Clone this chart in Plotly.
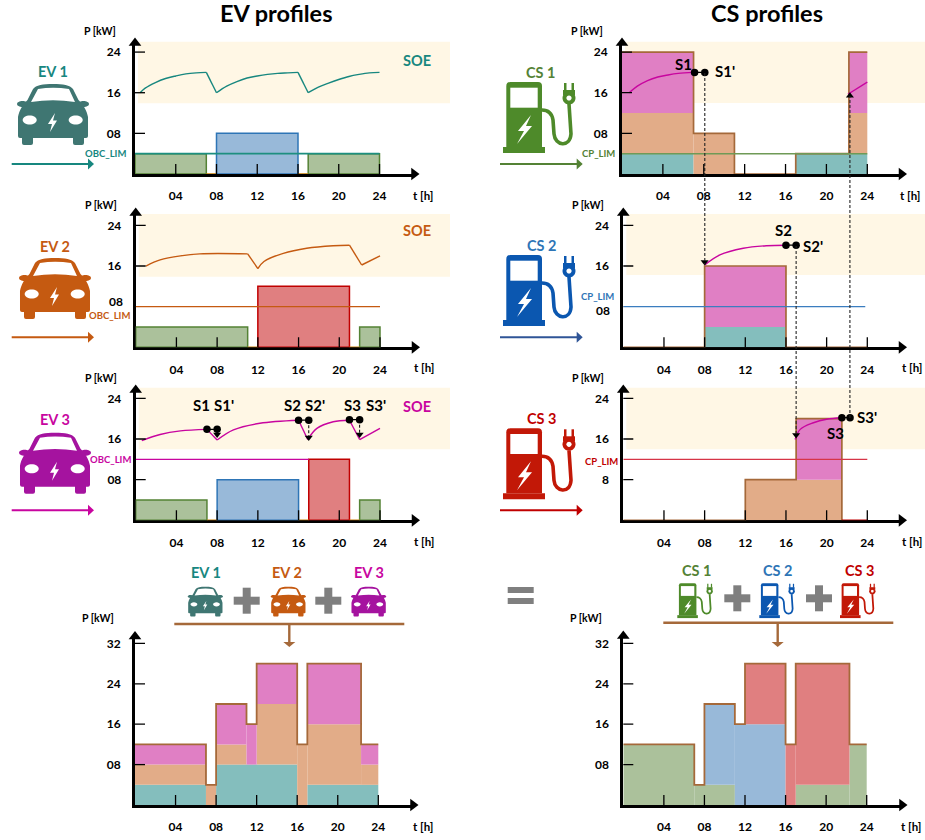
import re
import plotly.graph_objects as go

# ---------- data (kW against hour): segments are [start, end, low, high] ----------
HOUR_TICKS = [4, 8, 12, 16, 20, 24]
HOUR_LABELS = ["04", "08", "12", "16", "20", "24"]

EV1_GREEN = [[0, 7, 0, 4], [17, 24, 0, 4]]
EV1_BLUE = [[8, 16, 0, 8]]
EV1_IDLE = [[7, 8], [16, 17]]
EV1_LIMIT = 4
EV1_SOE_T = [0.5, 1, 2, 3, 4, 5, 6, 7, 8, 9, 10, 11, 12, 13, 14, 15, 16, 17, 18, 19, 20, 21, 22, 23, 24]
EV1_SOE = [16, 16.9, 18, 18.8, 19.3, 19.7, 19.9, 20, 16, 17.3, 18.2, 18.9, 19.3, 19.6, 19.8, 19.9, 20, 16, 17.1, 17.9, 18.6, 19.2, 19.6, 19.9, 20]

EV2_GREEN = [[0, 11, 0, 4], [22, 24, 0, 4]]
EV2_RED = [[12, 21, 0, 12]]
EV2_IDLE = [[11, 12], [21, 22]]
EV2_LIMIT = 8
EV2_SOE_T = [1, 2.4, 4.4, 6.3, 11, 12, 12.6, 14.5, 16.8, 19.4, 21, 22.2, 24]
EV2_SOE = [16, 17.2, 18, 18.4, 18.4, 15.5, 16.9, 18.5, 19.5, 20, 20.1, 16.2, 18]

EV3_GREEN = [[0, 7, 0, 4], [22, 24, 0, 4]]
EV3_BLUE = [[8, 16, 0, 8]]
EV3_RED = [[17, 21, 0, 12]]
EV3_IDLE = [[7, 8], [16, 17], [21, 22]]
EV3_LIMIT = 12
EV3_SOE_T = [0.6, 2.4, 4.4, 7, 8, 9.6, 12.2, 16, 16.9, 17.8, 19.4, 21, 22, 24]
EV3_SOE = [15.7, 16.9, 17.6, 17.9, 15.8, 17.8, 19.1, 19.7, 15.9, 18.1, 19.4, 19.7, 15.9, 18.1]
EV3_DOTS_T = [7, 8, 16, 17, 21, 22]
EV3_DOTS = [17.9, 17.9, 19.7, 19.7, 19.8, 19.8]

CS1_TEAL = [[0, 7, 0, 4], [17, 24, 0, 4]]
CS1_ORANGE = [[0, 7, 4, 12], [7, 11, 0, 8], [22.2, 24, 4, 12]]
CS1_PINK = [[0, 7, 12, 24], [22.2, 24, 12, 24]]
CS1_STEP_T = [0, 7, 11, 17, 22.2, 24]
CS1_STEP = [24, 8, 0, 4, 24, 24]
CS1_SOE_T = [0.7, 1.5, 2.5, 3.5, 4.5, 5.5, 7]
CS1_SOE = [16, 17.3, 18.4, 19.1, 19.5, 19.8, 20]
CS1_SOE2_T = [22.1, 24]
CS1_SOE2 = [15.7, 18.1]
CS1_DOTS_T = [7.1, 8.1]
CS1_DOTS = [20, 20]

CS2_TEAL = [[8, 16, 0, 4]]
CS2_PINK = [[8, 16, 4, 16]]
CS2_STEP_T = [0, 8, 16, 24]
CS2_STEP = [0, 16, 0, 0]
CS2_SOE_T = [8, 9.5, 11.8, 14.1, 16]
CS2_SOE = [16.2, 18.2, 19.5, 20, 20.1]
CS2_DOTS_T = [16, 17]
CS2_DOTS = [20.1, 20.1]

CS3_ORANGE = [[12, 21.5, 0, 8]]
CS3_PINK = [[17, 21.5, 8, 20]]
CS3_STEP_T = [0, 12, 17, 21.5]
CS3_STEP = [0, 8, 20, 0]
CS3_SOE_T = [16.9, 17.4, 18.7, 20, 21.5]
CS3_SOE = [15.9, 17.9, 19.2, 19.9, 20.2]
CS3_DOTS_T = [21.5, 22.3]
CS3_DOTS = [20.2, 20.2]
CS3_IDLE = [[21.5, 24]]

SUM_TEAL = [[0, 7, 0, 4], [8, 16, 0, 8], [17, 24, 0, 4]]
SUM_ORANGE = [[0, 7, 4, 8], [7, 8, 0, 4], [8, 11, 8, 12], [12, 16, 8, 20], [16, 17, 0, 12], [17, 22.3, 4, 16], [22.3, 24, 4, 8]]
SUM_PINK = [[0, 7, 8, 12], [8, 11, 12, 20], [11, 12, 8, 16], [12, 16, 20, 28], [17, 22.3, 16, 28], [22.3, 24, 8, 12]]
SUM_GREEN = [[0, 7, 0, 12], [7, 11, 0, 4], [17, 22.3, 0, 4], [22.3, 24, 0, 12]]
SUM_BLUE = [[8, 11, 4, 20], [11, 16, 0, 16]]
SUM_RED = [[12, 16, 16, 28], [16, 17, 0, 12], [17, 22.3, 4, 28]]
SUM_STEP_T = [0, 7, 8, 11, 12, 16, 17, 22.3, 24]
SUM_STEP = [12, 4, 20, 16, 28, 12, 28, 12, 12]

# ---------- styles ----------
W, H = 925, 840
FONT = "Lato"
TEAL_TXT, ORANGE_TXT, MAG_TXT = "#17877F", "#C55A11", "#C8059F"
GREEN_TXT, BLUE_TXT, RED_TXT = "#548235", "#2E75B6", "#C00000"
CAR1, CAR2, CAR3 = "#3F7672", "#C55A11", "#A5139F"
PUMP1, PUMP2, PUMP3 = "#4E8A2A", "#0B57B0", "#C21807"
FILL_GREEN, FILL_BLUE, FILL_RED = "#ABC19B", "#98B9D9", "#E07F80"
LINE_GREEN, LINE_BLUE, LINE_RED = "#548235", "#2E75B6", "#C00000"
FILL_TEAL, FILL_ORANGE, FILL_PINK = "#84BEBD", "#E2AC88", "#E07FC4"
BROWN = "#A5693A"
IDLE = "#C9820F"
BAND = "#FFF7E5"
GREY = "#7F7F7F"

# x0 px, x24 px, y0 px, px per kW, arrow tip x, arrow tip y
PANELS = {
    "ev1": (135, 379.5, 174, 5.08, 419, 38),
    "ev2": (135.7, 380, 347.3, 5.08, 419.5, 208),
    "ev3": (135.7, 380, 520.3, 5.08, 419.5, 385),
    "cs1": (622, 867.3, 174, 5.08, 906.5, 38),
    "cs2": (623.3, 867.3, 347.3, 5.08, 906.5, 208),
    "cs3": (623.3, 867.3, 520.3, 5.08, 906.5, 385),
    "sum_ev": (135, 378.3, 805, 5.05, 418, 631.5),
    "sum_cs": (623.3, 866.7, 805, 5.05, 907, 631),
}
AX = {k: ("x" if i == 0 else f"x{i+1}", "y" if i == 0 else f"y{i+1}") for i, k in enumerate(PANELS)}
TIP = 5

fig = go.Figure()
shapes, notes = [], []


def px(x):
    return x / W


def py(y):
    return 1 - y / H


def txt(x, y, text, size=12, color="black", xanchor="center"):
    notes.append(dict(xref="paper", yref="paper", x=px(x), y=py(y), text=text, showarrow=False,
                      xanchor=xanchor, yanchor="middle", font=dict(family=FONT, size=size, color=color)))


def bars(panel, segs, fill, line=None, lw=1.5):
    xa, ya = AX[panel]
    fig.add_trace(go.Bar(x=[s[0] for s in segs], width=[s[1] - s[0] for s in segs], offset=0,
                         base=[s[2] for s in segs], y=[s[3] - s[2] for s in segs],
                         marker=dict(color=fill, line=dict(color=line or fill, width=lw if line else 0)),
                         xaxis=xa, yaxis=ya, hoverinfo="skip", showlegend=False))


def curve(panel, xs, ys, color, width=1.4, shape="linear", dash="solid"):
    xa, ya = AX[panel]
    fig.add_trace(go.Scatter(x=xs, y=ys, mode="lines", line=dict(color=color, width=width, shape=shape, dash=dash),
                             xaxis=xa, yaxis=ya, cliponaxis=False, hoverinfo="skip", showlegend=False))


def soe(panel, xs, ys, color):
    """Rising (charging) runs are drawn smooth, the falling segments straight."""
    run = [0]
    for i in range(1, len(xs)):
        if ys[i] < ys[i - 1]:
            curve(panel, [xs[j] for j in run], [ys[j] for j in run], color, 1.4, "spline")
            curve(panel, xs[i - 1:i + 1], ys[i - 1:i + 1], color, 1.4)
            run = [i]
        else:
            run.append(i)
    curve(panel, [xs[j] for j in run], [ys[j] for j in run], color, 1.4, "spline")


def points(panel, xs, ys, symbol="circle", size=7.5, color="black"):
    xa, ya = AX[panel]
    fig.add_trace(go.Scatter(x=xs, y=ys, mode="markers", marker=dict(symbol=symbol, size=size, color=color),
                             xaxis=xa, yaxis=ya, cliponaxis=False, hoverinfo="skip", showlegend=False))


def idle(panel, segs, color=IDLE):
    for s in segs:
        curve(panel, [s[0], s[1]], [0, 0], color, width=1.6)


def band(panel, y_top, y_bot):
    x0 = PANELS[panel][0]
    left = x0 + 3
    right = 450 if x0 < 300 else 925
    shapes.append(dict(type="rect", xref="paper", yref="paper", x0=px(left), x1=px(right), y0=py(y_bot), y1=py(y_top),
                       fillcolor=BAND, line_width=0, layer="below"))


def transform(path, ox, oy, s):
    toks = re.findall(r"[MLCQZ]|-?\d+\.?\d*", path)
    out, is_x = [], True
    for t in toks:
        if t in "MLCQZ":
            out.append(t)
            is_x = True
        else:
            v = float(t)
            out.append(f"{px(ox + v * s):.5f}" if is_x else f"{py(oy + v * s):.5f}")
            is_x = not is_x
    res, i = "", 0
    while i < len(out):
        tok = out[i]
        if tok in "MLCQZ":
            res += tok
            i += 1
        else:
            res += f"{out[i]},{out[i+1]} "
            i += 2
    return res


def ellipse(cx, cy, rx, ry):
    k = 0.5523
    return (f"M {cx-rx} {cy} C {cx-rx} {cy-k*ry} {cx-k*rx} {cy-ry} {cx} {cy-ry} "
            f"C {cx+k*rx} {cy-ry} {cx+rx} {cy-k*ry} {cx+rx} {cy} "
            f"C {cx+rx} {cy+k*ry} {cx+k*rx} {cy+ry} {cx} {cy+ry} "
            f"C {cx-k*rx} {cy+ry} {cx-rx} {cy+k*ry} {cx-rx} {cy} Z")


def paint(path, ox, oy, s, fill="white"):
    shapes.append(dict(type="path", xref="paper", yref="paper", path=transform(path, ox, oy, s),
                       fillcolor=fill, line_width=0, layer="above"))


def stroke(path, ox, oy, s, color, width):
    shapes.append(dict(type="path", xref="paper", yref="paper", path=transform(path, ox, oy, s),
                       line=dict(color=color, width=width), layer="above"))


CAR_BODY = ("M 36 0 C 46 0 53 1 56 5 L 61.5 16 C 66 20 70 27 71 33 L 71 52 Q 71 54 69 54 L 67 54 L 67 59 Q 67 61 65 61 "
            "L 58 61 Q 56 61 56 59 L 56 54 L 16 54 L 16 59 Q 16 61 14 61 L 7 61 Q 5 61 5 59 L 5 54 L 3 54 Q 1 54 1 52 "
            "L 1 33 C 2 27 6 20 10.5 16 L 16 5 C 19 1 26 0 36 0 Z")
CAR_WINDOW = "M 21 5 Q 36 2.5 52 5 L 58 18 Q 36 14.5 14 18 Z"
CAR_BOLT = "M 38 29 L 31 40 L 35 40 L 33 48 L 40 36.5 L 36 36.5 Z"


def car(ox, oy, s, color):
    paint(CAR_BODY, ox, oy, s, color)
    paint(ellipse(5.5, 20, 5.5, 3), ox, oy, s, color)
    paint(ellipse(66.5, 20, 5.5, 3), ox, oy, s, color)
    paint(CAR_WINDOW, ox, oy, s)
    paint(ellipse(12.7, 36, 7, 4.5), ox, oy, s)
    paint(ellipse(58.7, 36, 7, 4.5), ox, oy, s)
    paint(CAR_BOLT, ox, oy, s)


def pump(ox, oy, s, color):
    paint("M 3.3 4 Q 3.3 0 7.3 0 L 35 0 Q 39 0 39 4 L 39 65 L 3.3 65 Z", ox, oy, s, color)
    paint("M 0 65 L 42 65 L 42 71 L 0 71 Z", ox, oy, s, color)
    paint("M 7.3 5.7 L 34.7 5.7 L 34.7 25.7 L 7.3 25.7 Z", ox, oy, s)
    paint("M 28 33 L 15 49 L 21 49 L 14 62 L 29 44 L 23 44 Z", ox, oy, s)
    stroke("M 39 28 C 46 28 49 32 50 38 L 51 52 C 52 64 67 66 68 52 L 66 22", ox, oy, s, color, 3.6 * s)
    paint(ellipse(66, 16, 6.5, 6.5), ox, oy, s, color)
    paint(ellipse(66, 16, 2.6, 2.6), ox, oy, s)
    paint("M 60 8 L 72 8 L 72 13 L 60 13 Z", ox, oy, s, color)
    paint("M 61 1 L 63.5 1 L 63.5 9 L 61 9 Z", ox, oy, s, color)
    paint("M 68.5 1 L 71 1 L 71 9 L 68.5 9 Z", ox, oy, s, color)


def hline(x0, x1, y, color, width):
    shapes.append(dict(type="line", xref="paper", yref="paper", x0=px(x0), x1=px(x1), y0=py(y), y1=py(y),
                       line=dict(color=color, width=width), layer="above"))


def arrow_right(x0, x1, y, color):
    hline(x0, x1 - 4, y, color, 2)
    paint(f"M {x1-6} {y-5.5} L {x1} {y} L {x1-6} {y+5.5} Z", 0, 0, 1, color)


def arrow_down(x, y0, y1):
    shapes.append(dict(type="line", xref="paper", yref="paper", x0=px(x), x1=px(x), y0=py(y0), y1=py(y1 - 4),
                       line=dict(color=BROWN, width=2.4), layer="above"))
    paint(f"M {x-6} {y1-5} L {x+6} {y1-5} L {x} {y1} Z", 0, 0, 1, BROWN)


def plus(cx, cy):
    paint(f"M {cx-13} {cy-4} L {cx+13} {cy-4} L {cx+13} {cy+4} L {cx-13} {cy+4} Z", 0, 0, 1, GREY)
    paint(f"M {cx-4} {cy-13} L {cx+4} {cy-13} L {cx+4} {cy+13} L {cx-4} {cy+13} Z", 0, 0, 1, GREY)


def dashed(panel, t, y_a, y_b):
    xa = AX[panel][0]
    shapes.append(dict(type="line", xref=xa, yref="paper", x0=t, x1=t, y0=py(y_a), y1=py(y_b),
                       line=dict(color="#222222", width=1.1, dash="3px,2px"), layer="above"))


# ---------- panel contents ----------
band("ev1", 41.7, 103.3)
band("ev2", 214, 276.7)
band("ev3", 387.7, 449.3)
band("cs1", 41.7, 103)
band("cs2", 214, 275)
band("cs3", 387.7, 449.3)

bars("ev1", EV1_GREEN, FILL_GREEN, LINE_GREEN)
bars("ev1", EV1_BLUE, FILL_BLUE, LINE_BLUE)
idle("ev1", EV1_IDLE)
curve("ev1", [0, 24], [EV1_LIMIT, EV1_LIMIT], "#1D8F80", 1.8)
soe("ev1", EV1_SOE_T, EV1_SOE, TEAL_TXT)

bars("ev2", EV2_GREEN, FILL_GREEN, LINE_GREEN)
bars("ev2", EV2_RED, FILL_RED, LINE_RED)
idle("ev2", EV2_IDLE)
curve("ev2", [0, 24], [EV2_LIMIT, EV2_LIMIT], ORANGE_TXT, 1.3)
soe("ev2", EV2_SOE_T, EV2_SOE, ORANGE_TXT)

bars("ev3", EV3_GREEN, FILL_GREEN, LINE_GREEN)
bars("ev3", EV3_BLUE, FILL_BLUE, LINE_BLUE)
bars("ev3", EV3_RED, FILL_RED, LINE_RED)
idle("ev3", EV3_IDLE)
curve("ev3", [0, 17], [EV3_LIMIT, EV3_LIMIT], MAG_TXT, 1.3)
soe("ev3", EV3_SOE_T, EV3_SOE, MAG_TXT)
for pair in ([7, 8], [16, 17], [21, 22]):
    i = EV3_DOTS_T.index(pair[0])
    curve("ev3", pair, EV3_DOTS[i:i + 2], "black", 1.2)
points("ev3", EV3_DOTS_T, EV3_DOTS)
curve("ev3", [8, 8], [17.9, 16.9], "black", 1, dash="3px,2px")
curve("ev3", [17, 17], [19.7, 16.6], "black", 1, dash="3px,2px")
curve("ev3", [22, 22], [19.8, 17], "black", 1, dash="3px,2px")
points("ev3", [8, 17, 22], [16.9, 16.3, 16.9], "triangle-down", 7)

bars("cs1", CS1_TEAL, FILL_TEAL)
bars("cs1", CS1_ORANGE, FILL_ORANGE)
bars("cs1", CS1_PINK, FILL_PINK)
curve("cs1", CS1_STEP_T, CS1_STEP, BROWN, 1.7, shape="hv")
curve("cs1", [0, 24], [4, 4], "#6F9A56", 1.5)
soe("cs1", CS1_SOE_T, CS1_SOE, MAG_TXT)
curve("cs1", CS1_SOE2_T, CS1_SOE2, MAG_TXT)
curve("cs1", CS1_DOTS_T, CS1_DOTS, "black", 1.2)
points("cs1", CS1_DOTS_T, CS1_DOTS)
points("cs1", [22.3], [15.4], "triangle-up", 7)

bars("cs2", CS2_TEAL, FILL_TEAL)
bars("cs2", CS2_PINK, FILL_PINK)
curve("cs2", CS2_STEP_T, CS2_STEP, BROWN, 1.7, shape="hv")
curve("cs2", [0, 23.8], [8, 8], "#3B7DBF", 1.3)
soe("cs2", CS2_SOE_T, CS2_SOE, MAG_TXT)
curve("cs2", CS2_DOTS_T, CS2_DOTS, "black", 1.2)
points("cs2", CS2_DOTS_T, CS2_DOTS)
points("cs2", [8], [16.8], "triangle-down", 7)

bars("cs3", CS3_ORANGE, FILL_ORANGE)
bars("cs3", CS3_PINK, FILL_PINK)
curve("cs3", CS3_STEP_T, CS3_STEP, BROWN, 1.7, shape="hv")
idle("cs3", CS3_IDLE, "#C00000")
curve("cs3", [0, 24], [12, 12], "#D63447", 1.3)
soe("cs3", CS3_SOE_T, CS3_SOE, MAG_TXT)
curve("cs3", CS3_DOTS_T, CS3_DOTS, "black", 1.2)
points("cs3", CS3_DOTS_T, CS3_DOTS)
points("cs3", [17], [16.8], "triangle-down", 7)

bars("sum_ev", SUM_TEAL, FILL_TEAL)
bars("sum_ev", SUM_ORANGE, FILL_ORANGE)
bars("sum_ev", SUM_PINK, FILL_PINK)
curve("sum_ev", SUM_STEP_T, SUM_STEP, BROWN, 1.8, shape="hv")

bars("sum_cs", SUM_GREEN, FILL_GREEN)
bars("sum_cs", SUM_BLUE, FILL_BLUE)
bars("sum_cs", SUM_RED, FILL_RED)
curve("sum_cs", SUM_STEP_T, SUM_STEP, BROWN, 1.8, shape="hv")

dashed("cs1", 8.1, 73, 265)
dashed("cs1", 22.3, 418, 96)
dashed("cs2", 17, 246, 435)

# ---------- axes ----------
layout_axes = {}
Y_TICKS = {"ev1": [8, 16, 24], "ev2": [16, 24], "ev3": [8, 16, 24], "cs1": [8, 16, 24], "cs2": [16, 24],
           "cs3": [8, 16, 24], "sum_ev": [8, 16, 24, 32], "sum_cs": [8, 16, 24, 32]}
Y_LABELS = {8: "08", 16: "16", 24: "24", 32: "32"}
for name, (x0, x24, y0, kw, tip_x, tip_y) in PANELS.items():
    scale = (x24 - x0) / 24
    xmax = (tip_x - TIP - x0) / scale
    ymax = (y0 - tip_y - TIP) / kw
    xa, ya = AX[name]
    xk, yk = xa.replace("x", "xaxis"), ya.replace("y", "yaxis")
    ticks_y = Y_TICKS[name]
    ylabels = ["8" if (name == "cs3" and v == 8) else Y_LABELS[v] for v in ticks_y]
    layout_axes[xk] = dict(domain=[px(x0), px(tip_x - TIP)], range=[0, xmax], anchor=ya, showgrid=False, zeroline=False,
                           showline=True, linecolor="black", linewidth=3, ticks="", tickvals=HOUR_TICKS,
                           ticktext=HOUR_LABELS, ticklabelstandoff=9,
                           tickfont=dict(family=FONT, size=12, color="black", weight="bold"), layer="below traces")
    layout_axes[yk] = dict(domain=[py(y0), py(tip_y + TIP)], range=[0, ymax], anchor=xa, showgrid=False, zeroline=False,
                           showline=True, linecolor="black", linewidth=3, ticks="", tickvals=ticks_y, ticktext=ylabels,
                           ticklabelstandoff=9,
                           tickfont=dict(family=FONT, size=12, color="black", weight="bold"), layer="below traces")
    points(name, [xmax], [0], "triangle-right", 11)
    points(name, [0], [ymax], "triangle-up", 11)
    is_sum = name.startswith("sum")
    for t in HOUR_TICKS:
        shapes.append(dict(type="line", xref=xa, yref=ya, x0=t, x1=t, ysizemode="pixel", yanchor=0,
                           y0=-10 if is_sum else 0, y1=10, line=dict(color="black", width=1.3), layer="above"))
    for v in [8, 16, 24] + ([32] if is_sum else []):
        left_only = v == 8 and name in ("ev2", "cs2")
        shapes.append(dict(type="line", xref=xa, yref=ya, y0=v, y1=v, xsizemode="pixel", xanchor=0,
                           x0=-10 if is_sum else -9, x1=0 if left_only else 10, line=dict(color="black", width=1.3),
                           layer="above"))

# ---------- decorations and text ----------
txt(276, 13, "<b>EV profiles</b>", 23.5)
txt(766.7, 13, "<b>CS profiles</b>", 23.5)

for x, y in [(100, 31), (101, 205), (101, 378), (586.7, 31), (588, 205), (588, 378), (97.7, 618), (586, 618)]:
    txt(x, y, "<b>P [kW]</b>", 10.5)
for x, y in [(423, 195), (424, 367), (424, 541), (910, 195), (911.7, 367), (911.7, 541), (422.7, 826.7), (911, 826.7)]:
    txt(x, y, "<b>t [h]</b>", 11.5)

txt(115.7, 301, "<b>08</b>", 12)
txt(602.7, 310.7, "<b>08</b>", 12)

for (x, y, t, c) in [(53, 71, "EV 1", TEAL_TXT), (55, 246, "EV 2", ORANGE_TXT), (55, 419, "EV 3", MAG_TXT),
                     (540, 72, "CS 1", GREEN_TXT), (541, 245, "CS 2", BLUE_TXT), (541, 418, "CS 3", RED_TXT),
                     (205.7, 572.3, "EV 1", TEAL_TXT), (287.3, 572.3, "EV 2", ORANGE_TXT), (369, 572.3, "EV 3", MAG_TXT),
                     (696.7, 570.7, "CS 1", GREEN_TXT), (777.7, 570.7, "CS 2", BLUE_TXT), (859.3, 570.7, "CS 3", RED_TXT)]:
    txt(x, y, f"<b>{t}</b>", 14.5, c)

for (y, c) in [(61, TEAL_TXT), (230, ORANGE_TXT), (406, MAG_TXT)]:
    txt(417, y, "<b>SOE</b>", 14.5, c)

for (x, y, t, c) in [(105.7, 153, "OBC_LIM", TEAL_TXT), (109, 315.7, "OBC_LIM", ORANGE_TXT), (110.7, 459.3, "OBC_LIM", MAG_TXT),
                     (598.3, 153.3, "CP_LIM", GREEN_TXT), (597.7, 296.7, "CP_LIM", BLUE_TXT), (601, 461, "CP_LIM", RED_TXT)]:
    txt(x, y, f"<b>{t}</b>", 9.5, c)

for (x, y, t) in [(201.7, 405, "S1"), (224.3, 405, "S1'"), (292.3, 405, "S2"), (315, 405, "S2'"), (352.7, 405, "S3"),
                  (375.7, 405, "S3'"), (683.3, 64, "S1"), (725, 71, "S1'"), (783.3, 230, "S2"), (813.3, 246, "S2'"),
                  (835, 433.3, "S3"), (866.7, 416.7, "S3'")]:
    txt(x, y, f"<b>{t}</b>", 15)

car(17, 84, 1, CAR1)
car(19, 258, 1, CAR2)
car(19, 432.7, 1, CAR3)
pump(503, 82, 1, PUMP1)
pump(503, 255, 1, PUMP2)
pump(503, 428.3, 1, PUMP3)

car(187.7, 586.7, 0.49, CAR1)
car(270.7, 586.7, 0.49, CAR2)
car(351, 586.7, 0.49, CAR3)
pump(677.3, 583.3, 0.49, PUMP1)
pump(759.3, 583.3, 0.49, PUMP2)
pump(840, 583.3, 0.49, PUMP3)

arrow_right(11.7, 94, 164, TEAL_TXT)
arrow_right(11.7, 94, 337.3, ORANGE_TXT)
arrow_right(11.7, 94, 510.3, MAG_TXT)
arrow_right(500, 582.7, 164, GREEN_TXT)
arrow_right(500, 582.7, 337.3, "#2F5597")
arrow_right(500, 582.7, 510.3, RED_TXT)

plus(246.7, 600.7)
plus(328.3, 600.7)
plus(737.3, 598.3)
plus(819, 598.3)
hline(507.7, 533.7, 590, GREY, 6)
hline(507.7, 533.7, 601, GREY, 6)

hline(174.3, 404.3, 624, BROWN, 2.6)
arrow_down(289.3, 624, 647)
hline(663.3, 893.3, 622.7, BROWN, 2.6)
arrow_down(777.7, 622.7, 647)

fig.update_layout(width=W, height=H, margin=dict(l=0, r=0, t=0, b=0, pad=0), paper_bgcolor="white", plot_bgcolor="rgba(0,0,0,0)",
                  barmode="overlay", showlegend=False, shapes=shapes, annotations=notes, **layout_axes)

fig.write_html("out.html", config=dict(displayModeBar=False),
               post_script="document.body.style.margin='0';document.body.style.overflow='hidden';")
